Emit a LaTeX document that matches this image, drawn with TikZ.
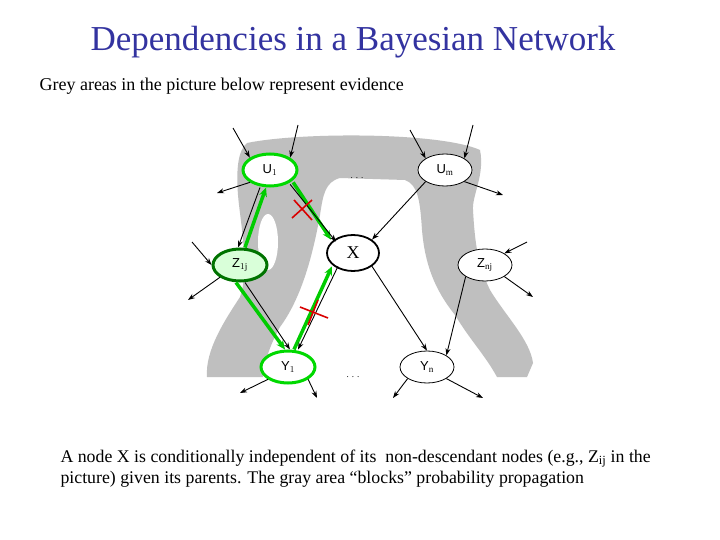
\documentclass[tikz,border=0pt]{standalone}
\usepackage{fontspec}
\setmainfont{Liberation Serif}
\setsansfont{Liberation Sans}
\usetikzlibrary{shapes.geometric,arrows.meta}
\begin{document}
\begin{tikzpicture}[x=1pt,y=-1pt,
  nd/.style={ellipse,draw=black,fill=white,line width=0.8pt,minimum width=54pt,minimum height=32pt,inner sep=0pt,font=\sffamily\fontsize{13}{15}\selectfont},
  gnd/.style={nd,draw=green!85!black,line width=3pt},
  arr/.style={-{Stealth[length=7pt,width=5pt]},line width=0.9pt},
  garr/.style={-{Stealth[length=9pt,width=8pt]},line width=3.5pt,draw=green!80!black,color=green!80!black},
  cross/.style={draw=red!85!black,line width=1.6pt}]
\useasboundingbox (0,0) rectangle (720,540);
\fill[white] (0,0) rectangle (720,540);
% grey area
\fill[black!25] (247,143) .. controls (300,132) and (440,132) .. (480,150)
 .. controls (485,175) and (472,195) .. (473,210)
 .. controls (475,245) and (478,265) .. (490,290)
 .. controls (505,315) and (530,340) .. (533,363)
 -- (527,377) -- (497,377)
 .. controls (485,355) and (470,340) .. (455,315)
 .. controls (435,290) and (425,265) .. (422,230)
 .. controls (420,200) and (418,185) .. (405,180)
 -- (340,178) .. controls (325,182) and (323,195) .. (320,215)
 .. controls (312,260) and (300,300) .. (280,327)
 .. controls (270,345) and (265,360) .. (263,377)
 -- (207,377) .. controls (205,350) and (225,320) .. (240,297)
 .. controls (250,270) and (240,220) .. (238,195)
 .. controls (236,170) and (238,150) .. (247,143) -- cycle;
\fill[white] (268,242) ellipse (10 and 28);
% titles
\node[font=\fontsize{35}{40}\selectfont,text={rgb,255:red,51;green,51;blue,160}] (title) at (353,42) {Dependencies in a Bayesian Network};
\node[anchor=west,font=\fontsize{18}{20}\selectfont] (sub) at (36,86) {Grey areas in the picture below represent evidence};
\node[anchor=north west,align=left,font=\fontsize{17.8}{21}\selectfont] (cap) at (57,446) {A node X is conditionally independent of its\ \ non-descendant nodes (e.g., Z$_{\mathrm{ij}}$ in the\\picture) given its parents. The gray area “blocks” probability propagation};
% nodes
\node[gnd] (u1) at (270,170) {U$_1$};
\node[nd] (um) at (445,170) {U$_\mathrm{m}$};
\node[nd,line width=1.8pt,minimum width=52pt,minimum height=36pt,font=\fontsize{18}{20}\selectfont] (x) at (353,253) {X};
\node[nd,fill=green!15,draw=green!45!black,line width=3pt] (z1) at (240,265) {Z$_{1\mathrm{j}}$};
\node[nd] (zn) at (485,265) {Z$_\mathrm{nj}$};
\node[gnd] (y1) at (288,367) {Y$_1$};
\node[nd] (yn) at (427,367) {Y$_\mathrm{n}$};
\node[font=\small] (d1) at (357,178) {. . .};
\node[font=\small] (d2) at (353,377) {. . .};
% green paths
\draw[garr] ([xshift=5pt]z1.north) -- ([xshift=-4pt]u1.south);
\draw[garr] ([xshift=-4pt]z1.south) -- ([xshift=-3pt]y1.north);
\draw[garr] ([xshift=6pt]y1.north) -- ([xshift=-2pt]x.south west);
\draw[garr] ([xshift=3pt]u1.south east) -- ([xshift=-3pt]x.north west);
% black arrows
\draw[arr] ([xshift=-10pt]u1.south) -- ([xshift=-2pt]z1.north);
\draw[arr] ([xshift=5pt]z1.south) -- ([xshift=2pt]y1.north);
\draw[arr] ([xshift=4pt]x.south west) -- ([xshift=10pt]y1.north);
\draw[arr] ([yshift=-2pt]u1.south east) -- ([xshift=2pt,yshift=-2pt]x.north west);
\draw[arr] (um.south west) -- (x.north east);
\draw[arr] (x.south east) -- (yn.north);
\draw[arr] (zn.south west) -- (yn.north east);
% stubs
\coordinate (a1) at (233,128); \draw[arr] (a1) -- (u1.north west);
\coordinate (a2) at (298,125); \draw[arr] (a2) -- (u1.north east);
\coordinate (a3) at (217,193); \draw[arr] (u1.south west) -- (a3);
\coordinate (b1) at (410,130); \draw[arr] (b1) -- (um.north west);
\coordinate (b2) at (473,125); \draw[arr] (b2) -- (um.north east);
\coordinate (b3) at (503,195); \draw[arr] (um.south east) -- (b3);
\coordinate (c1) at (192,242); \draw[arr] (c1) -- (z1.west);
\coordinate (c2) at (188,300); \draw[arr] (z1.south west) -- (c2);
\coordinate (e1) at (527,242); \draw[arr] (e1) -- (zn.north east);
\coordinate (e2) at (533,297); \draw[arr] (zn.south east) -- (e2);
\coordinate (f1) at (240,393); \draw[arr] (y1.south west) -- (f1);
\coordinate (f2) at (317,398); \draw[arr] (y1.south east) -- (f2);
\coordinate (g1) at (393,398); \draw[arr] (yn.south west) -- (g1);
\coordinate (g2) at (483,398); \draw[arr] (yn.south east) -- (g2);
% red crosses
\draw[cross] (292,218) -- (312,200) (294,200) -- (312,220);
\draw[cross] (300,307) -- (328,318) (308,325) -- (318,300);
\end{tikzpicture}
\end{document}
